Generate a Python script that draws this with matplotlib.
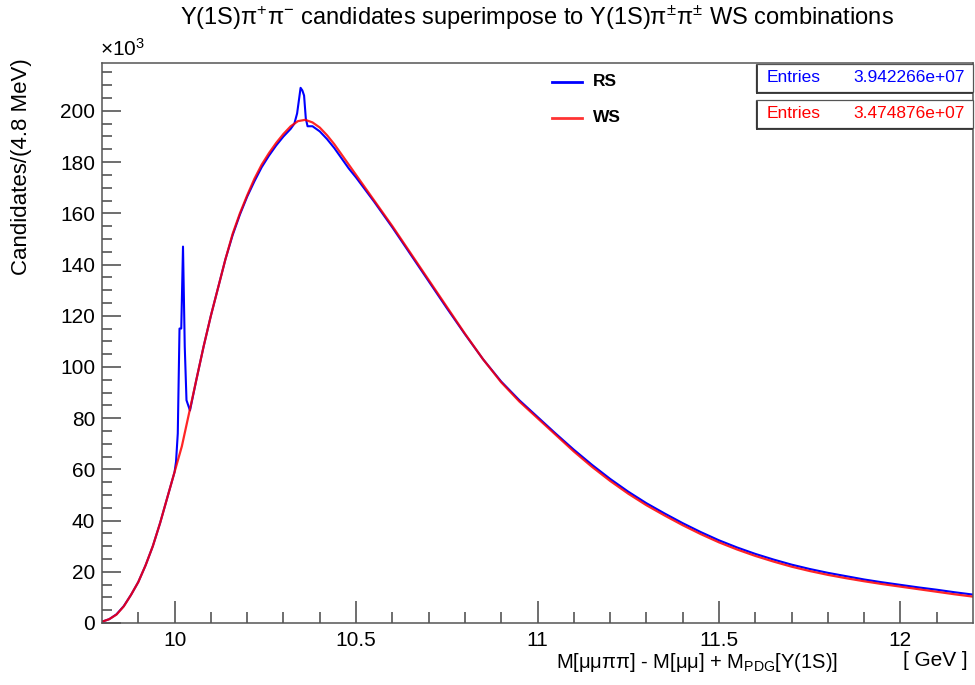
import numpy as np
import matplotlib
matplotlib.use("Agg")
import matplotlib.pyplot as plt
from matplotlib.patches import Rectangle

plt.rcParams['font.family'] = ['Liberation Sans', 'DejaVu Sans']
plt.rcParams['mathtext.fontset'] = 'custom'
plt.rcParams['mathtext.rm'] = 'Liberation Sans'
plt.rcParams['mathtext.it'] = 'Liberation Sans:italic'
plt.rcParams['mathtext.bf'] = 'Liberation Sans:bold'

# mass values [GeV] and candidates per bin [x10^3]
ws_x = [9.80, 9.82, 9.84, 9.86, 9.88, 9.90, 9.92, 9.94, 9.96, 9.98,
        10.00, 10.02, 10.04, 10.06, 10.08, 10.10, 10.12, 10.14, 10.16, 10.18,
        10.20, 10.22, 10.24, 10.26, 10.28, 10.30, 10.32, 10.34, 10.36, 10.38,
        10.40, 10.42, 10.44, 10.46, 10.48, 10.50, 10.55, 10.60, 10.65, 10.70,
        10.75, 10.80, 10.85, 10.90, 10.95, 11.00, 11.05, 11.10, 11.15, 11.20,
        11.25, 11.30, 11.35, 11.40, 11.45, 11.50, 11.55, 11.60, 11.65, 11.70,
        11.75, 11.80, 11.85, 11.90, 11.95, 12.00, 12.05, 12.10, 12.15, 12.20]
ws_y = [0.5, 1.5, 3.3, 6.5, 11.0, 16.0, 22.5, 30.0, 39.0, 49.0,
        59.0, 69.0, 82.0, 95.0, 108.0, 120.0, 131.0, 142.0, 152.0, 160.0,
        167.0, 173.5, 179.0, 183.5, 187.5, 191.0, 194.0, 196.0, 196.5, 195.5,
        193.5, 190.5, 187.0, 183.0, 179.0, 175.0, 165.0, 155.0, 144.5, 134.0,
        123.5, 113.0, 103.0, 94.0, 86.5, 80.0, 73.5, 67.0, 61.0, 55.5,
        50.5, 46.0, 42.0, 38.2, 34.7, 31.5, 28.7, 26.2, 24.0, 22.0,
        20.3, 18.8, 17.5, 16.3, 15.2, 14.2, 13.2, 12.2, 11.2, 10.3]

rs_x = [9.80, 9.82, 9.84, 9.86, 9.88, 9.90, 9.92, 9.94, 9.96, 9.98,
        10.00, 10.004, 10.0088, 10.0136, 10.0184, 10.0232, 10.028, 10.0328, 10.0376, 10.0424,
        10.06, 10.08, 10.10, 10.12, 10.14, 10.16, 10.18, 10.20, 10.22, 10.24,
        10.26, 10.28, 10.30, 10.32, 10.33, 10.3376, 10.3424, 10.3472, 10.352, 10.3568,
        10.3616, 10.3664, 10.38, 10.40, 10.42, 10.44, 10.46, 10.48, 10.50, 10.55,
        10.60, 10.65, 10.70, 10.75, 10.80, 10.85, 10.90, 10.95, 11.00, 11.05,
        11.10, 11.15, 11.20, 11.25, 11.30, 11.35, 11.40, 11.45, 11.50, 11.55,
        11.60, 11.65, 11.70, 11.75, 11.80, 11.85, 11.90, 11.95, 12.00, 12.05,
        12.10, 12.15, 12.20]
rs_y = [0.5, 1.5, 3.4, 6.6, 11.0, 16.0, 22.5, 30.0, 39.0, 49.0,
        59.0, 63.0, 74.0, 115.0, 115.0, 147.0, 108.0, 87.0, 85.0, 83.0,
        95.0, 108.0, 120.0, 131.0, 142.0, 151.5, 159.5, 166.5, 172.5, 178.0,
        182.5, 186.5, 190.0, 193.0, 195.0, 199.0, 204.0, 209.0, 208.0, 206.0,
        197.0, 194.0, 194.0, 192.0, 189.0, 185.5, 181.5, 177.5, 174.0, 164.5,
        154.5, 144.0, 133.5, 123.0, 112.8, 103.0, 94.3, 87.0, 80.5, 74.0,
        67.7, 61.8, 56.3, 51.3, 46.8, 42.8, 39.0, 35.5, 32.3, 29.5,
        27.0, 24.8, 22.8, 21.1, 19.6, 18.3, 17.0, 15.9, 14.9, 13.9,
        13.0, 12.0, 11.1]

series_names = ['RS', 'WS']
series_colors = ['#0000ff', '#ff0000']
entries = [3.942266e+07, 3.474876e+07]

fig = plt.figure(figsize=(9.75, 6.85), dpi=100)
ax = fig.add_axes([102 / 975, 62 / 685, 871 / 975, 560 / 685])

ax.plot(rs_x, rs_y, color=series_colors[0], lw=1.5)
ax.plot(ws_x, ws_y, color=series_colors[1], lw=1.6, alpha=0.85)

ax.set_xlim(9.8, 12.2)
ax.set_ylim(0, 218.7)
ax.set_xticks([10, 10.5, 11, 11.5, 12])
ax.set_xticklabels(['10', '10.5', '11', '11.5', '12'])
ax.set_xticks(np.arange(9.9, 12.2, 0.1), minor=True)
ax.set_yticks(np.arange(0, 201, 20))
ax.set_yticks(np.arange(0, 216, 5), minor=True)

frame_col = '#555555'
for s in ax.spines.values():
    s.set_color(frame_col)
    s.set_linewidth(1.1)
ax.tick_params(which='both', direction='in', colors=frame_col, labelcolor='black',
               labelsize=15, top=False, right=False)
ax.tick_params(axis='x', which='major', length=16, width=1.2, pad=6)
ax.tick_params(axis='x', which='minor', length=8, width=1.2)
ax.tick_params(axis='y', which='major', length=14, width=1.2, pad=5)
ax.tick_params(axis='y', which='minor', length=7, width=1.2)

fig.text(100 / 975, 1 - 49 / 685, r'$\times$10$^{3}$', fontsize=15, va='center', ha='left')

fig.text(537 / 975, 1 - 18 / 685,
         r'Υ(1S)π$^{+}$π$^{-}$ candidates superimpose to Υ(1S)π$^{\pm}$π$^{\pm}$ WS combinations',
         fontsize=17, ha='center', va='center')
fig.text(22 / 975, 1 - 58 / 685, 'Candidates/(4.8 MeV)', rotation=90,
         fontsize=16, ha='center', va='top')
fig.text(838 / 975, 1 - 662 / 685, r'M[μμππ] - M[μμ] + M$_{\mathrm{PDG}}$[Υ(1S)]',
         fontsize=14.5, ha='right', va='center')
fig.text(968 / 975, 1 - 660 / 685, '[ GeV ]', fontsize=15, ha='right', va='center')

# legend drawn by hand, no frame
for i, (name, col) in enumerate(zip(series_names, series_colors)):
    yy = 1 - (82 + 36 * i) / 685
    fig.add_artist(plt.Line2D([552 / 975, 582 / 975], [yy, yy], color=col, lw=2,
                              alpha=1 if i == 0 else 0.8))
    fig.text(593 / 975, yy, name, fontsize=12.5, fontweight='bold', va='center')

# stats boxes
for i, (val, col) in enumerate(zip(entries, series_colors)):
    top = 64 + 36 * i
    h = 28
    fig.add_artist(Rectangle((756 / 975, 1 - (top + h) / 685), 217 / 975, h / 685,
                             transform=fig.transFigure, fill=True, fc='white',
                             ec='#555555', lw=0.9))
    fig.add_artist(plt.Line2D([757 / 975, 757 / 975], [1 - (top + 2) / 685, 1 - (top + h + 1) / 685],
                              color='#333333', lw=1.3))
    fig.add_artist(plt.Line2D([757 / 975, 972 / 975], [1 - (top + h + 1) / 685, 1 - (top + h + 1) / 685],
                              color='#333333', lw=1.3))
    yy = 1 - (top + h / 2) / 685
    fig.text(767 / 975, yy, 'Entries', color=col, fontsize=12.5, va='center')
    fig.text(965 / 975, yy, '%e' % val, color=col, fontsize=12.5, va='center', ha='right')

fig.savefig('out.png', dpi=100)
